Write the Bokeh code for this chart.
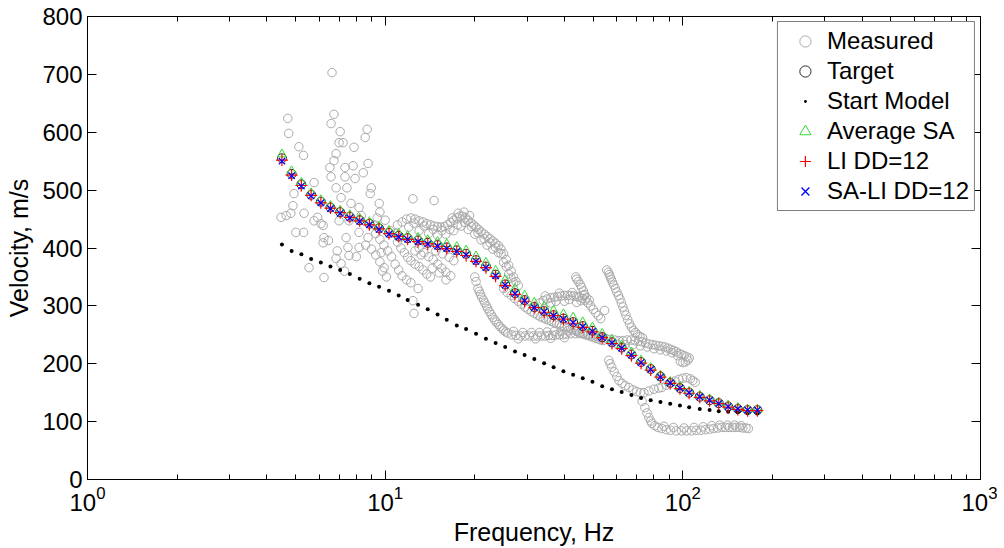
from bokeh.plotting import figure
from bokeh.models import FixedTicker, LogAxis, LinearAxis
from bokeh.embed import file_html
from bokeh.resources import INLINE

# ---------------- data ----------------
freq = [4.50, 4.85, 5.23, 5.64, 6.08, 6.55, 7.06, 7.61, 8.21, 8.85,
        9.54, 10.3, 11.1, 11.9, 12.9, 13.9, 15.0, 16.1, 17.4, 18.7,
        20.2, 21.8, 23.5, 25.3, 27.3, 29.4, 31.7, 34.2, 36.8, 39.7,
        42.8, 46.1, 49.7, 53.6, 57.8, 62.3, 67.2, 72.4, 78.0, 84.1,
        90.7, 97.8, 105, 114, 123, 132, 142, 153, 165, 178]

target_v = [555, 528, 510, 492, 480, 470, 462, 454, 448, 442,
            434, 426, 421, 417, 413, 409, 405, 401, 396, 390,
            379, 368, 354, 337, 322, 310, 298, 291, 284, 278,
            272, 265, 257, 246, 237, 228, 216, 203, 191, 178,
            167, 158, 150, 143, 137, 132, 126, 122, 120, 120]

start_v = [406, 395, 389, 381, 375, 368, 362, 355, 347, 339,
           333, 326, 318, 310, 302, 294, 285, 276, 266, 260,
           252, 243, 236, 229, 221, 215, 208, 201, 194, 187,
           181, 175, 169, 161, 156, 151, 146, 141, 137, 134,
           131, 128, 125, 122, 120, 118, 117, 116, 115, 114]

avg_sa_v = [562, 533, 513, 495, 483, 473, 465, 457, 451, 445,
            437, 430, 425, 421, 418, 414, 411, 407, 402, 396,
            386, 375, 361, 345, 330, 318, 306, 299, 292, 286,
            280, 272, 263, 252, 242, 232, 220, 206, 193, 180,
            169, 160, 152, 145, 139, 133, 128, 124, 121, 121]

li_v = [552, 526, 508, 491, 478, 469, 461, 453, 447, 440,
        433, 425, 420, 415, 411, 407, 403, 399, 394, 387,
        377, 366, 351, 335, 320, 308, 297, 289, 283, 277,
        270, 263, 255, 245, 235, 226, 214, 201, 189, 177,
        166, 157, 149, 142, 136, 131, 125, 121, 119, 119]

sa_li_v = [550, 525, 507, 490, 478, 468, 460, 452, 446, 440,
           432, 424, 419, 415, 411, 407, 403, 399, 394, 388,
           377, 366, 352, 336, 321, 309, 297, 290, 283, 277,
           271, 264, 256, 245, 236, 227, 215, 202, 190, 177,
           167, 158, 150, 143, 137, 131, 126, 122, 120, 120]

# measured dispersion data (frequency Hz, velocity m/s), by branch
meas_low = [(6.63, 703), (4.71, 624), (4.74, 598), (6.73, 631), (6.58, 615), (7.06, 601),
            (8.70, 605), (8.57, 591), (7.00, 582), (7.22, 582), (7.86, 574), (5.13, 575),
            (5.32, 560), (6.84, 563), (6.73, 551), (6.52, 539), (7.33, 539), (7.80, 542),
            (8.76, 546), (6.58, 523), (7.33, 523), (7.92, 520), (8.44, 530), (7.44, 504),
            (6.84, 504), (5.77, 513), (8.98, 504), (8.91, 494), (12.4, 485), (14.6, 482),
            (4.94, 494), (4.90, 473), (4.82, 460), (4.65, 456), (5.34, 460), (5.93, 453),
            (6.09, 442), (7.11, 487), (7.68, 477), (8.17, 470), (7.00, 447), (7.56, 447),
            (8.31, 456), (9.55, 477), (5.01, 427), (5.32, 427), (6.23, 418), (6.45, 413),
            (7.39, 418), (8.17, 427), (6.19, 409), (7.50, 401), (8.17, 401), (6.84, 382),
            (7.11, 373), (7.56, 387), (5.55, 366), (6.23, 349), (8.76, 418), (9.70, 392),
            (9.92, 366), (12.9, 330), (12.5, 287), (12.4, 309), (5.77, 447), (6.19, 439),
            (4.47, 453), (9.2, 440), (9.4, 452), (9.6, 462), (10.0, 448), (8.0, 385),
            (7.3, 360), (6.9, 395)]

meas_mid = [(9.3, 425), (9.6, 415), (9.9, 405), (10.2, 395), (10.5, 385), (10.8, 372),
            (11.1, 362), (11.4, 352), (11.8, 345), (12.2, 340), (11.0, 410), (11.3, 400),
            (11.6, 392), (11.9, 384), (12.2, 378), (12.6, 372), (13.0, 368), (13.4, 362),
            (13.8, 355), (14.2, 350), (13.0, 400), (13.5, 392), (14.0, 385), (14.5, 380),
            (15.0, 372), (15.5, 365), (16.0, 358), (16.6, 352), (14.8, 395), (15.6, 390),
            (16.4, 384), (17.0, 378), (10.4, 430), (10.8, 425), (11.2, 418), (12.6, 395),
            (13.2, 388), (14.4, 365), (15.2, 357), (16.0, 345), (8.6, 405), (9.0, 398),
            (9.3, 388), (9.6, 376), (9.8, 360), (10.1, 350)]

meas_upper = [(11.0, 440), (11.4, 445), (11.8, 450), (12.2, 452), (12.6, 450), (13.0, 447),
              (13.4, 445), (13.8, 442), (14.2, 440), (14.6, 438), (15.0, 437), (15.4, 436),
              (15.8, 437), (16.2, 440), (16.6, 444), (17.0, 448), (17.4, 452), (17.8, 455),
              (18.2, 455), (18.6, 452), (19.0, 448), (19.4, 444), (19.8, 440), (20.2, 436),
              (20.6, 432), (21.0, 428), (21.5, 424), (22.0, 420), (22.5, 416), (23.0, 412),
              (23.5, 408), (24.0, 404), (24.5, 398), (25.0, 390), (25.5, 380), (26.0, 370),
              (26.5, 360), (27.0, 350), (27.5, 342), (28.0, 335), (12.0, 436), (13.0, 430),
              (14.0, 425), (15.0, 422), (16.0, 424), (17.0, 430), (18.0, 438), (19.0, 432),
              (20.0, 424), (21.0, 414), (22.0, 405), (23.0, 398), (24.0, 392), (25.0, 375),
              (26.0, 355), (27.0, 340), (12.5, 443), (13.5, 438), (14.5, 432), (15.5, 430),
              (16.5, 432), (17.5, 440), (18.5, 444), (19.5, 437), (20.5, 426), (21.5, 416),
              (22.5, 409), (23.5, 401), (24.5, 390), (25.5, 368), (26.5, 348), (16.8, 452),
              (17.6, 460), (18.4, 462), (19.2, 456)]

meas_hug = [(25.0, 330), (26.5, 318), (28.0, 308), (29.5, 298), (31.0, 290), (32.5, 284),
            (34.0, 279), (35.5, 275), (37.0, 271), (38.5, 268), (40.0, 264), (42.0, 260),
            (44.0, 256), (46.0, 252), (48.0, 249), (50.0, 246), (52.0, 243), (54.0, 240),
            (25.7, 323), (27.2, 313), (28.7, 303), (30.2, 294), (31.7, 287), (33.2, 281),
            (34.7, 277), (36.2, 273), (37.7, 269), (39.2, 266), (41.0, 262), (43.0, 258),
            (45.0, 254), (47.0, 250), (49.0, 247), (51.0, 244), (53.0, 241)]

meas_lower = [(20.0, 350), (20.2, 342), (20.5, 330), (20.9, 320), (21.4, 310), (21.9, 300),
              (22.4, 290), (23.0, 280), (23.6, 272), (24.3, 264), (25.0, 258), (25.8, 253),
              (26.6, 250), (27.5, 249), (28.5, 248), (29.5, 248), (30.5, 248), (31.5, 248),
              (32.5, 248), (33.5, 248), (34.5, 248), (35.5, 249), (36.5, 249), (37.5, 250),
              (38.5, 250), (39.5, 250), (40.5, 251), (42.0, 252), (43.5, 252), (45.0, 252),
              (46.5, 252), (48.0, 251), (50.0, 250), (52.0, 248), (54.0, 246),
              (20.7, 325), (21.1, 315), (21.6, 305), (22.1, 295), (22.7, 285), (23.3, 276),
              (24.0, 268), (24.7, 261), (25.4, 255), (27.0, 256), (29.0, 254), (31.0, 254),
              (33.0, 254), (35.0, 255), (37.0, 256), (39.0, 256), (41.0, 257), (44.0, 258),
              (47.0, 257), (28.0, 243), (32.0, 243), (36.0, 244), (40.0, 245)]

meas_hook = [(33, 305), (34, 309), (35, 312), (36, 314), (37, 315), (38, 316), (39, 317),
             (40, 318), (41, 318), (42, 318), (43, 317), (44, 316), (45, 315), (46, 313),
             (47, 310), (48, 305), (49, 300), (50, 294), (51, 288), (52, 283), (53, 278),
             (36, 305), (40, 308), (44, 306), (43.7, 350), (44.0, 346), (44.6, 342),
             (45.2, 337), (45.7, 332), (46.3, 326), (46.8, 320), (47.5, 314), (54.6, 292),
             (34.5, 317), (38.5, 322), (42.5, 323), (46.5, 318), (48.5, 310), (37.5, 308),
             (41.5, 311), (45.5, 309)]

meas_col = [(55.5, 362), (56.2, 358), (56.6, 354), (57.0, 350), (57.5, 346), (58.0, 341),
            (58.6, 336), (59.3, 330), (60.0, 324), (60.8, 318), (61.5, 312), (62.2, 305),
            (62.9, 298), (63.6, 291), (64.4, 284), (65.3, 276), (66.2, 269), (67.2, 263),
            (68.2, 258), (69.3, 254), (70.5, 250), (71.8, 247), (73.2, 245)]

meas_band = [(53, 246), (55, 244), (57, 242), (59, 241), (61, 240), (63, 240), (65, 241),
             (67, 241), (69, 240), (71, 239), (73, 238), (75, 236), (77, 234), (79, 233),
             (81, 232), (83, 231), (85, 230), (87, 229), (89, 227), (91, 225), (93, 223),
             (95, 221), (97, 218), (99, 216), (101, 214), (103, 212), (105, 210), (104, 206),
             (102, 203), (100, 202), (98, 204), (60, 234), (64, 233), (68, 233), (72, 231),
             (76, 229), (80, 226), (84, 224), (88, 222), (92, 219), (96, 214)]

meas_low_band = [(56.4, 206), (57.0, 200), (57.7, 194), (58.8, 186), (60.0, 178), (61.0, 171),
                 (62.5, 166), (64.0, 162), (65.9, 159), (68.0, 155), (70.0, 152), (72.0, 150),
                 (74.0, 150), (76.9, 153), (80.0, 156), (83.0, 158), (85.0, 159), (88.0, 163),
                 (91.0, 167), (94.0, 170), (97.0, 173), (100, 175), (103, 176), (106, 174),
                 (108, 171), (110, 168)]

meas_bottom = [(73.0, 135), (74.6, 124), (75.8, 115), (76.9, 107), (78.0, 101), (78.7, 97),
               (80.5, 93), (82.5, 90), (85, 88), (88, 86), (91, 85), (95, 84), (99, 84),
               (103, 84), (107, 84), (111, 85), (115, 85), (119, 86), (123, 87), (127, 88),
               (131, 89), (135, 90), (139, 90), (143, 90), (147, 90), (151, 90), (155, 90),
               (159, 89), (163, 89), (166, 88), (86.5, 92), (93, 90), (101, 89), (109, 90),
               (117, 91), (125, 93), (133, 94), (141, 94), (149, 94), (157, 93)]

measured = (meas_low + meas_mid + meas_upper + meas_hug + meas_lower + meas_hook
            + meas_col + meas_band + meas_low_band + meas_bottom)
meas_f = [m[0] for m in measured]
meas_v = [m[1] for m in measured]

x_major = [1, 10, 100, 1000]
x_minor = [2, 3, 4, 5, 6, 7, 8, 9, 20, 30, 40, 50, 60, 70, 80, 90,
           200, 300, 400, 500, 600, 700, 800, 900]
y_ticks = [0, 100, 200, 300, 400, 500, 600, 700, 800]

FONT = "Liberation Sans"

# ---------------- figure ----------------
p = figure(x_axis_type="log", x_range=(1, 1000), y_range=(0, 800),
           frame_width=893, frame_height=463,
           min_border_left=87, min_border_right=17, min_border_top=16, min_border_bottom=69,
           output_backend="svg", toolbar_location=None)
p.xgrid.visible = False
p.ygrid.visible = False
p.outline_line_color = "black"
p.outline_line_width = 1
p.background_fill_color = "white"
p.border_fill_color = "white"

xt = FixedTicker(ticks=x_major, minor_ticks=x_minor)
yt = FixedTicker(ticks=y_ticks, minor_ticks=[])

for ax in p.xaxis:
    ax.ticker = xt
    ax.axis_label = "Frequency, Hz"
for ax in p.yaxis:
    ax.ticker = yt
    ax.axis_label = "Velocity, m/s"

for ax in list(p.xaxis) + list(p.yaxis):
    ax.major_tick_in = 9
    ax.major_tick_out = 0
    ax.minor_tick_in = 5
    ax.minor_tick_out = 0
    ax.axis_line_color = "black"
    ax.major_tick_line_color = "black"
    ax.minor_tick_line_color = "black"
    ax.major_label_text_font = FONT
    ax.major_label_text_font_size = "24px"
    ax.major_label_text_color = "black"
    ax.axis_label_text_font = FONT
    ax.axis_label_text_font_size = "25px"
    ax.axis_label_text_font_style = "normal"
    ax.axis_label_text_color = "black"
p.yaxis.major_label_standoff = 5
p.yaxis.axis_label_standoff = 6
p.xaxis.major_label_standoff = 6
p.xaxis.axis_label_standoff = 4

# box ticks on top and right (labels invisible)
top_ax = LogAxis(ticker=xt, major_label_text_font_size="8px", major_label_text_alpha=0,
                 major_tick_in=9, major_tick_out=0,
                 minor_tick_in=5, minor_tick_out=0, major_label_standoff=0,
                 axis_line_color="black", major_tick_line_color="black", minor_tick_line_color="black")
right_ax = LinearAxis(ticker=yt, major_label_text_font_size="8px", major_label_text_alpha=0,
                      major_tick_in=9, major_tick_out=0,
                      minor_tick_in=0, minor_tick_out=0, major_label_standoff=0,
                      axis_line_color="black", major_tick_line_color="black")
p.add_layout(top_ax, "above")
p.add_layout(right_ax, "right")

# ---------------- glyphs ----------------
p.scatter(meas_f, meas_v, marker="circle", size=8.5, fill_color=None,
          line_color="#aaaaaa", line_width=1, legend_label="Measured")
p.scatter(freq, target_v, marker="circle", size=9, fill_color=None,
          line_color="#2a2a2a", line_width=1, legend_label="Target")
p.scatter(freq, start_v, marker="dot", size=16, fill_color="black",
          line_color="black", line_width=1, legend_label="Start Model")
p.scatter(freq, avg_sa_v, marker="triangle", size=9, fill_color=None,
          line_color="#33dd33", line_width=1, legend_label="Average SA")
p.scatter(freq, li_v, marker="cross", size=12, line_color="#ff0000",
          line_width=1.2, legend_label="LI DD=12")
p.scatter(freq, sa_li_v, marker="x", size=9, line_color="#0000ff",
          line_width=1.3, legend_label="SA-LI DD=12")

lg = p.legend[0]
lg.location = "top_right"
lg.margin = 5
lg.padding = 5
lg.spacing = 2
lg.glyph_width = 44
lg.glyph_height = 28
lg.label_height = 28
lg.label_standoff = 0
lg.label_text_font = FONT
lg.label_text_font_size = "24px"
lg.label_text_color = "black"
lg.border_line_color = "black"
lg.border_line_width = 1
lg.background_fill_alpha = 1

open("out.html", "w").write(file_html(p, INLINE))
